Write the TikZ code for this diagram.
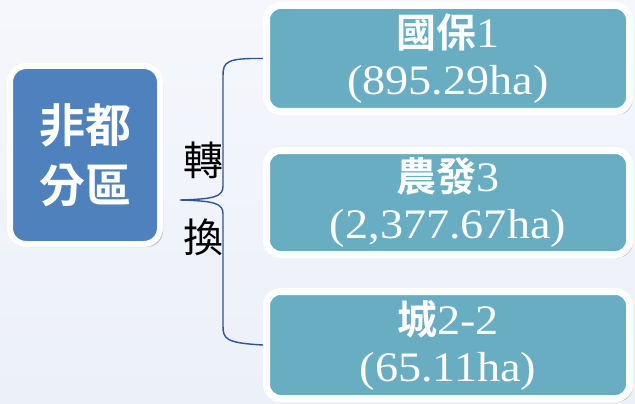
\documentclass[tikz,border=0pt]{standalone}
\usepackage{fontspec}
\setmainfont{Liberation Serif}[FakeStretch=1.1]
\newfontfamily\cjk{Noto Sans CJK TC}
\newfontfamily\cjkb{Noto Sans CJK TC Bold}
\usetikzlibrary{shadows}
\definecolor{bgtop}{HTML}{F5F7FC}
\definecolor{bgbot}{HTML}{ECF0F8}
\definecolor{bluebox}{HTML}{4F81BD}
\definecolor{tealbox}{HTML}{68ADC1}
\definecolor{bracecol}{HTML}{2F5597}
\tikzset{
  leftbox/.style={draw=white, line width=6pt, fill=bluebox, rounded corners=16pt,
    minimum width=150pt, minimum height=178pt, inner sep=0pt, align=center,
    text=white, font=\cjkb\fontsize{46}{60}\selectfont,
    drop shadow={shadow xshift=3pt, shadow yshift=-3pt, opacity=0.35, fill=black!60}},
  areabox/.style={draw=white, line width=7pt, fill=tealbox, rounded corners=14pt,
    minimum width=363pt, inner sep=0pt, align=center,
    text=white, font=\fontsize{42}{47}\selectfont,
    drop shadow={shadow xshift=3pt, shadow yshift=-3pt, opacity=0.35, fill=black!60}},
  vlabel/.style={font=\cjk\fontsize{40}{48}\selectfont, text=black, inner sep=0pt},
  bracket/.style={draw=bracecol, line width=1.4pt}
}
\begin{document}
\begin{tikzpicture}[x=1pt,y=-1pt]
\shade[top color=bgtop, bottom color=bgbot] (0,0) rectangle (635,404);
\useasboundingbox (0,0) rectangle (635,404);
\node[leftbox] (src) at (85,155) {非都\\分區};
\node[areabox, minimum height=106pt] (a) at (448,58.5) {{\cjkb\fontsize{40}{47}\selectfont 國保}1\\(895.29ha)};
\node[areabox, minimum height=104pt] (b) at (448,202.5) {{\cjkb\fontsize{40}{47}\selectfont 農發}3\\(2,377.67ha)};
\node[areabox, minimum height=107pt] (c) at (448,345) {{\cjkb\fontsize{40}{47}\selectfont 城}2-2\\(65.11ha)};
\node[vlabel] (t1) at (203,160) {轉};
\node[vlabel] (t2) at (203,237) {換};
\coordinate (tip) at (180,200);
\draw[bracket] (a.west) .. controls (226,58) and (223,62) .. (223,76)
  -- (223,186) .. controls (223,197) and (214,199) .. (tip)
  .. controls (214,201) and (223,203) .. (223,214)
  -- (223,326) .. controls (223,339) and (226,343) .. (c.west);
\end{tikzpicture}
\end{document}
